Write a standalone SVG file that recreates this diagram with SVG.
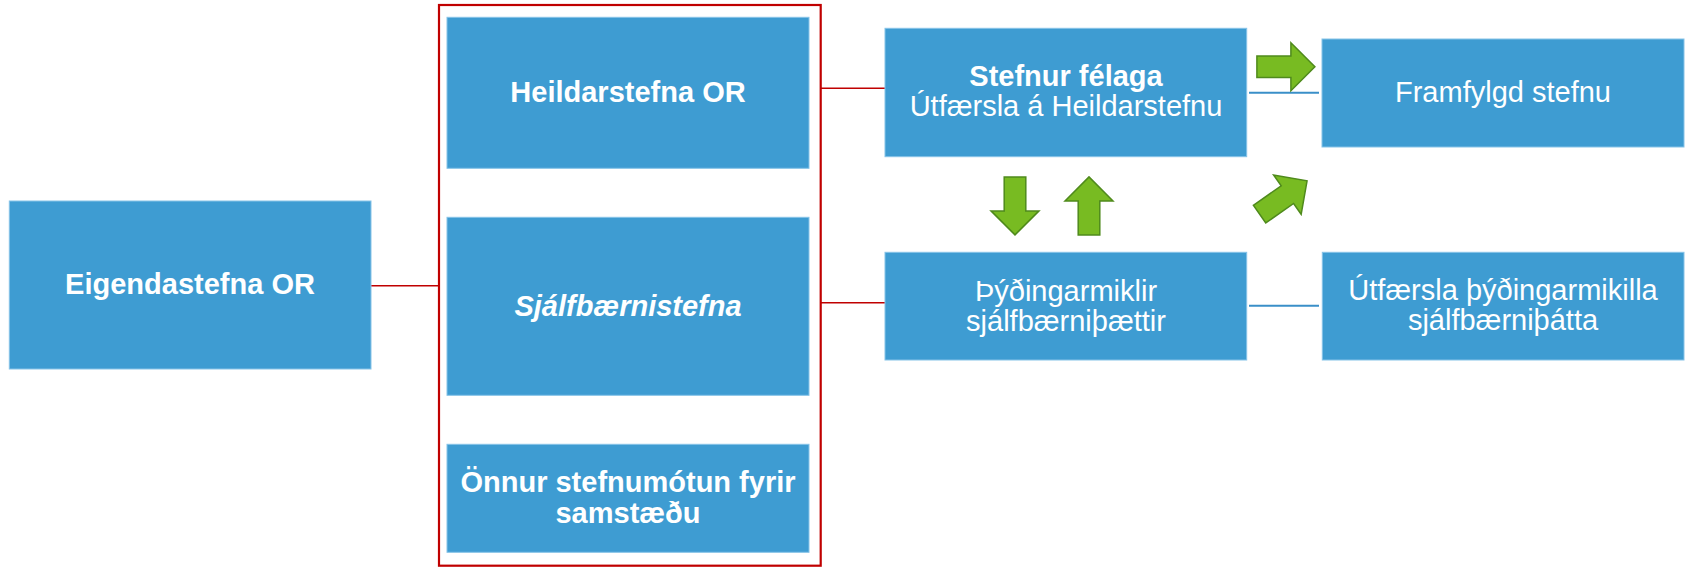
<svg xmlns="http://www.w3.org/2000/svg" xmlns:xlink="http://www.w3.org/1999/xlink" width="1685" height="567" viewBox="0 0 1685 567">
<style>
.box{fill:#3e9cd2;stroke:#86c3e8;stroke-width:1}
.t{font-family:"Liberation Sans",Arial,sans-serif;font-size:29px;fill:#ffffff;text-anchor:middle}
.b{font-weight:bold}
.bi{font-weight:bold;font-style:italic}
.red{stroke:#c00000;fill:none}
.blue{stroke:#3a8fc8;stroke-width:2;fill:none}
.garrow{fill:#78bb22;stroke:#4f8a1c;stroke-width:1.5;stroke-linejoin:miter}
</style>
<defs>
<path id="ga" d="M-29,-10.8 H5 V-24 L29,0 L5,24 V10.8 H-29 Z"/>
</defs>
<rect width="1685" height="567" fill="#ffffff"/>
<g id="connectors">
<path class="red" stroke-width="1.6" d="M371,285.7 H439"/>
<path class="red" stroke-width="1.6" d="M820.7,88.3 H885"/>
<path class="red" stroke-width="1.6" d="M820.7,302.7 H885"/>
<path class="blue" d="M1249,92.7 H1319"/>
<path class="blue" d="M1249,305.7 H1319"/>
</g>
<g id="group-frame">
<rect class="red" stroke-width="2.2" x="439" y="5" width="381.7" height="560.7"/>
</g>
<g id="eigendastefna">
<rect class="box" x="9.3" y="201" width="361.7" height="168"/>
<text class="t b" x="190" y="294">Eigendastefna OR</text>
</g>
<g id="heildarstefna">
<rect class="box" x="447" y="17.3" width="362" height="151"/>
<text class="t b" x="628" y="101.7">Heildarstefna OR</text>
</g>
<g id="sjalfbaernistefna">
<rect class="box" x="447" y="217.3" width="362" height="178"/>
<text class="t bi" x="628" y="315.7">Sjálfbærnistefna</text>
</g>
<g id="onnur">
<rect class="box" x="447" y="444.3" width="362" height="108"/>
<text class="t b" x="628" y="491.7">Önnur stefnumótun fyrir</text>
<text class="t b" x="628" y="522.7">samstæðu</text>
</g>
<g id="stefnur-felaga">
<rect class="box" x="885" y="28.3" width="361.7" height="128.4"/>
<text class="t b" x="1066" y="85.7">Stefnur félaga</text>
<text class="t" x="1066" y="115.7">Útfærsla á Heildarstefnu</text>
</g>
<g id="framfylgd">
<rect class="box" x="1322" y="39" width="362" height="108"/>
<text class="t" x="1503" y="101.7">Framfylgd stefnu</text>
</g>
<g id="thydingarmiklir">
<rect class="box" x="885" y="252.3" width="361.7" height="107.7"/>
<text class="t" x="1066" y="301">Þýðingarmiklir</text>
<text class="t" x="1066" y="330.7">sjálfbærniþættir</text>
</g>
<g id="utfaersla">
<rect class="box" x="1322.3" y="252.3" width="361.7" height="107.7"/>
<text class="t" x="1503" y="300">Útfærsla þýðingarmikilla</text>
<text class="t" x="1503" y="330">sjálfbærniþátta</text>
</g>
<g id="arrows">
<use xlink:href="#ga" href="#ga" class="garrow" transform="translate(1015,205.9) rotate(90)"/>
<use xlink:href="#ga" href="#ga" class="garrow" transform="translate(1089,205.9) rotate(-90)"/>
<use xlink:href="#ga" href="#ga" class="garrow" transform="translate(1285.9,66.7)"/>
<use xlink:href="#ga" href="#ga" class="garrow" transform="translate(1283.3,197.5) rotate(-35)"/>
</g>
</svg>
